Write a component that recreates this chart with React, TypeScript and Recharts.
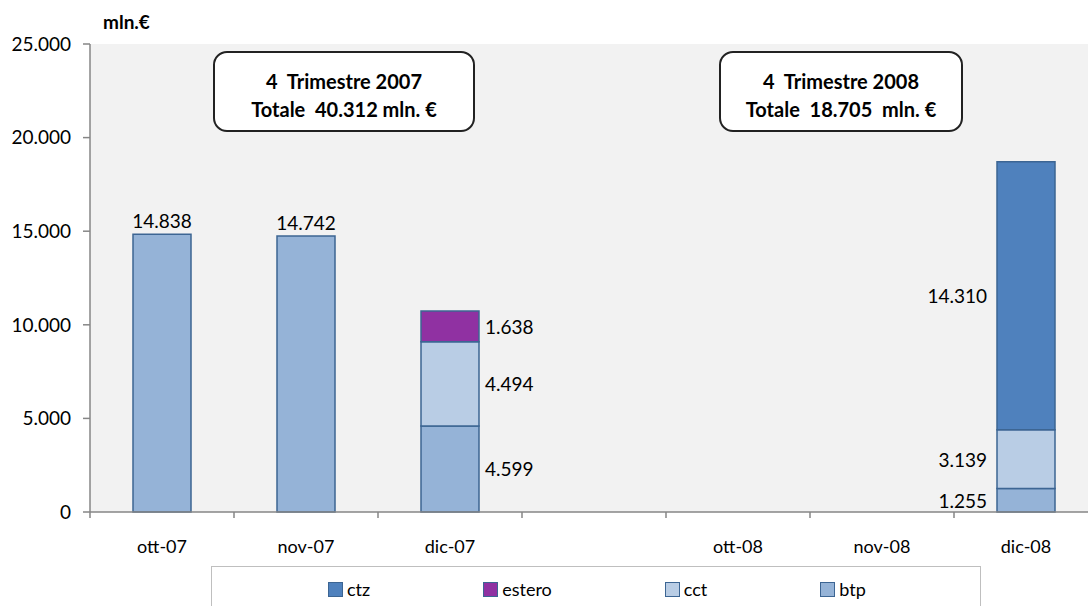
import { BarChart, Bar, XAxis, YAxis, CartesianGrid, LabelList } from 'recharts'

// Emissioni per strumento, 4° trimestre 2007 vs 2008 (mln. €)
const months = ['ott-07', 'nov-07', 'dic-07', '', 'ott-08', 'nov-08', 'dic-08']
const btp = [14838, 14742, 4599, null, null, null, 1255]
const cct = [null, null, 4494, null, null, null, 3139]
const estero = [null, null, 1638, null, null, null, null]
const ctz = [null, null, null, null, null, null, 14310]
const yTicks = [0, 5000, 10000, 15000, 20000, 25000]

const boxes = [
  { left: 213, width: 262, title: '4  Trimestre 2007', total: 'Totale  40.312 mln. €' },
  { left: 719, width: 244, title: '4  Trimestre 2008', total: 'Totale  18.705  mln. €' },
]

const COLORS: Record<string, string> = {
  ctz: '#4f81bd',
  estero: '#9031a2',
  cct: '#b9cde5',
  btp: '#95b3d7',
}
const legendOrder = ['ctz', 'estero', 'cct', 'btp']
const EDGE = '#3c6593'
const AXIS = '#868686'
const FONT = 'Lato, "Open Sans", sans-serif'

const CHART_W = 1120
const CHART_H = 606
const MARGIN = { top: 44, right: 22, left: 0, bottom: 0 }
const Y_W = 90
const X_H = 94
const BAND = (CHART_W - MARGIN.right - Y_W) / months.length

// stacked columns whose labels sit beside the segments
const RIGHT_LABELS = 'dic-07'
const LEFT_LABELS = 'dic-08'

const data = months.map((m, i) => ({
  month: m,
  btp: btp[i],
  cct: cct[i],
  estero: estero[i],
  ctz: ctz[i],
}))

const fmt = (v: number) => String(v).replace(/\B(?=(\d{3})+(?!\d))/g, '.')

const MonthTick = ({ x, y, payload }: any) => (
  <g>
    <line x1={x - BAND / 2} x2={x - BAND / 2} y1={y} y2={y + 6} stroke={AXIS} strokeWidth={1.5} />
    {payload.value ? (
      <text x={x} y={y + 34} textAnchor="middle" dominantBaseline="central"
        fontFamily={FONT} fontSize={18} fill="#000">
        {payload.value}
      </text>
    ) : null}
  </g>
)

// value comes in as { v, m } so the label knows which column it belongs to
const SegmentLabel = ({ x, y, width, height, value }: any) => {
  if (!value || value.v == null || value.v === 0) return null
  const common = { fontFamily: FONT, fontSize: 19, fill: '#000' }
  if (value.m === RIGHT_LABELS) {
    return <text x={x + width + 6} y={y + height / 2} dominantBaseline="central" textAnchor="start" {...common}>{fmt(value.v)}</text>
  }
  if (value.m === LEFT_LABELS) {
    return <text x={x - 10} y={y + height / 2} dominantBaseline="central" textAnchor="end" {...common}>{fmt(value.v)}</text>
  }
  return <text x={x + width / 2} y={y - 6} textAnchor="middle" {...common}>{fmt(value.v)}</text>
}

export default function App() {
  return (
    <div style={{ position: 'relative', width: 1088, height: 606, overflow: 'hidden', background: '#fff', fontFamily: FONT }}>
      <style>{'body{margin:0}'}</style>
      <BarChart width={CHART_W} height={CHART_H} data={data} margin={MARGIN} barSize={58}>
        <CartesianGrid fill="#f2f2f2" stroke="none" horizontal={false} vertical={false} />
        <XAxis
          dataKey="month"
          height={X_H}
          interval={0}
          tickSize={0}
          tickMargin={0}
          tickLine={false}
          axisLine={{ stroke: AXIS, strokeWidth: 1.5 }}
          tick={<MonthTick />}
        />
        <YAxis
          width={Y_W}
          domain={[0, 25000]}
          ticks={yTicks}
          tickFormatter={fmt}
          tickSize={7}
          tickMargin={12}
          axisLine={{ stroke: AXIS, strokeWidth: 1.5 }}
          tickLine={{ stroke: AXIS, strokeWidth: 1.5 }}
          tick={{ fill: '#000', fontSize: 19, fontFamily: FONT }}
        />
        {['btp', 'cct', 'estero', 'ctz'].map(k => (
          <Bar key={k} dataKey={k} stackId="a" fill={COLORS[k]} stroke={EDGE} strokeWidth={1.5} isAnimationActive={false}>
            <LabelList
              dataKey={(d: any) => ({ v: d[k], m: d.month })}
              content={<SegmentLabel />}
            />
          </Bar>
        ))}
      </BarChart>

      <div style={{ position: 'absolute', left: 103, top: 10, fontWeight: 700, fontSize: 19 }}>mln.€</div>

      {boxes.map(b => (
        <div key={b.title} style={{
          position: 'absolute', left: b.left, top: 51, width: b.width, height: 81,
          boxSizing: 'border-box', border: '2px solid #222', borderRadius: 14, background: '#fff',
          display: 'flex', flexDirection: 'column', alignItems: 'center', justifyContent: 'center',
          fontWeight: 700, fontSize: 20, lineHeight: '28px', paddingTop: 6, whiteSpace: 'pre',
        }}>
          <div>{b.title}</div>
          <div>{b.total}</div>
        </div>
      ))}

      <div style={{
        position: 'absolute', left: 211, top: 566, width: 770, height: 60, boxSizing: 'border-box',
        border: '1px solid #bfbfbf', background: '#fff', display: 'flex', alignItems: 'flex-start',
        paddingLeft: 116, paddingTop: 11, gap: 113,
      }}>
        {legendOrder.map(k => (
          <div key={k} style={{ display: 'flex', alignItems: 'center', fontSize: 18, lineHeight: '22px' }}>
            <span style={{ width: 13, height: 13, background: COLORS[k], border: `1px solid ${EDGE}`, marginRight: 4, display: 'inline-block' }} />
            <span>{k}</span>
          </div>
        ))}
      </div>
    </div>
  )
}
